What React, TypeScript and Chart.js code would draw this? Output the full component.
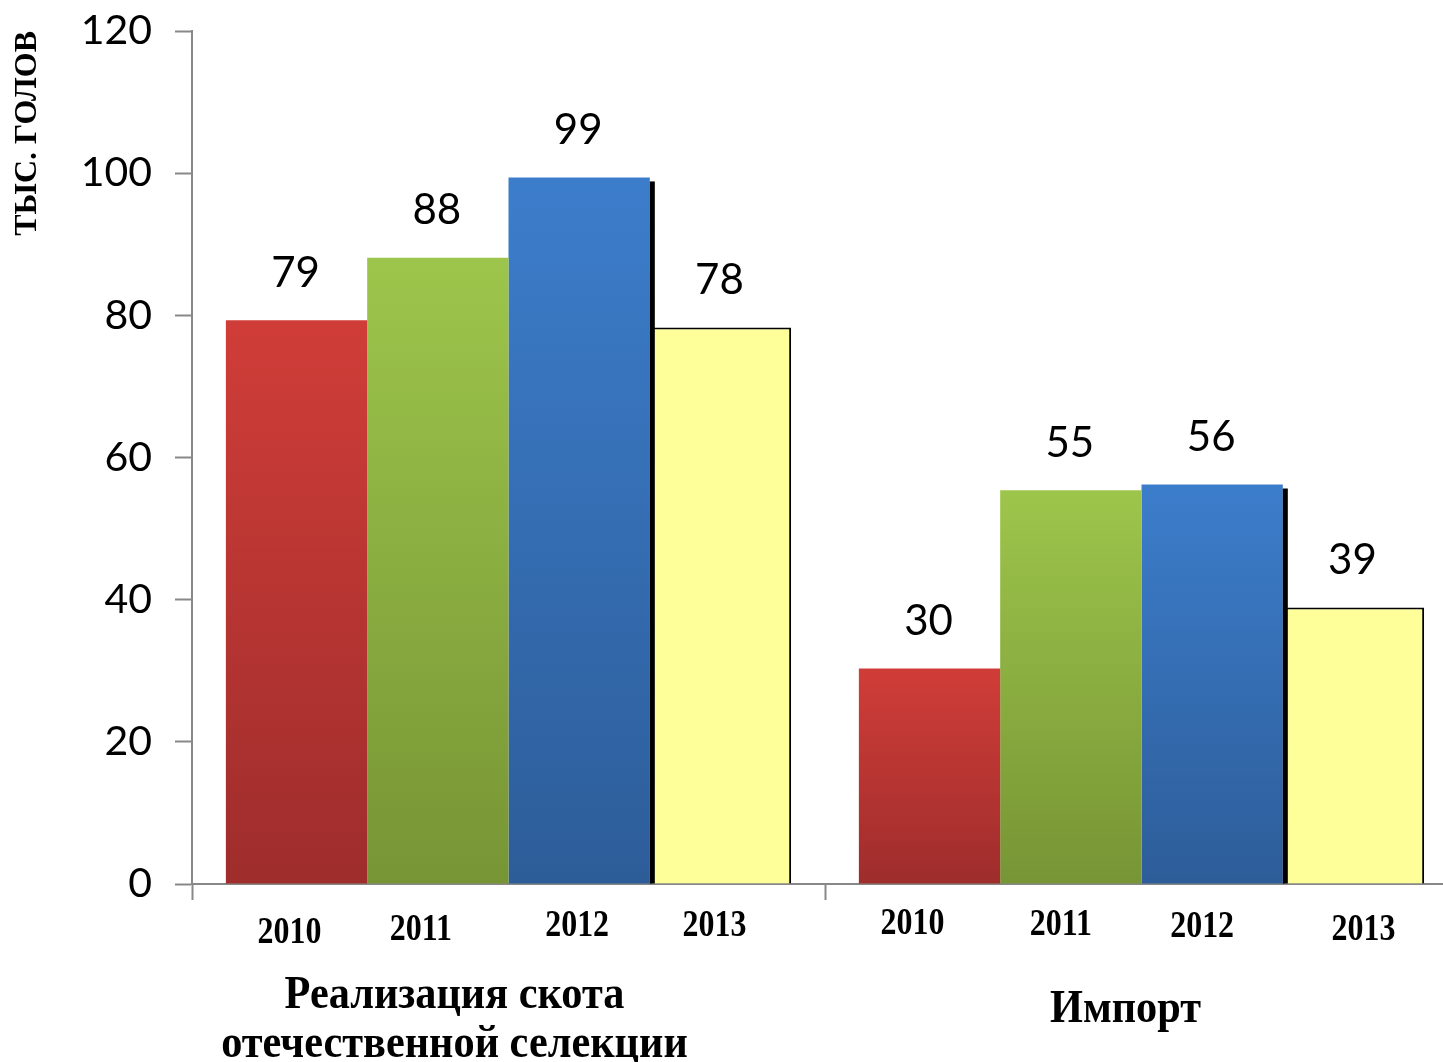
import React, { useEffect, useRef } from "react";
import { Chart, registerables } from "chart.js";

Chart.register(...registerables);

const categories = ["Реализация скота отечественной селекции", "Импорт"];
const groupLabelLines = [["Реализация скота", "отечественной селекции"], ["Импорт"]];
const years = ["2010", "2011", "2012", "2013"];
const values2010 = [79.3, 30.3];
const values2011 = [88.1, 55.4];
const values2012 = [99.4, 56.2];
const values2013 = [78.3, 38.9];
const yMin = 0;
const yMax = 120;
const yStep = 20;
const yTitle = "ТЫС. ГОЛОВ";

// small per-label text nudges (style only)
const yearDx = [[-7, -17, -2, -6], [-17, -10, -10, 10]];
const yearDy = [[49, 46, 42, 42], [40, 41, 43, 46]];
const groupDx = [-54, -16];
const groupDy = [[112, 161], [126]];

function grad(top: string, bottom: string) {
  return (ctx: any) => {
    const chart = ctx.chart;
    if (!chart.chartArea || ctx.raw === undefined) return top;
    const ys = chart.scales.y;
    const y0 = ys.getPixelForValue(ctx.raw);
    const y1 = ys.getPixelForValue(0);
    if (!isFinite(y0) || !isFinite(y1) || y0 === y1) return top;
    const g = chart.ctx.createLinearGradient(0, y0, 0, y1);
    g.addColorStop(0, top);
    g.addColorStop(1, bottom);
    return g;
  };
}

function drawCondensed(ctx: CanvasRenderingContext2D, text: string, x: number, y: number, font: string, sx: number) {
  ctx.save();
  ctx.translate(x, y);
  ctx.scale(sx, 1);
  ctx.font = font;
  ctx.fillStyle = "#000";
  ctx.textAlign = "center";
  ctx.textBaseline = "middle";
  ctx.fillText(text, 0, 0);
  ctx.restore();
}

const labelsPlugin = {
  id: "labelsPlugin",
  afterDatasetsDraw(chart: any) {
    const ctx: CanvasRenderingContext2D = chart.ctx;
    const bottom = chart.chartArea.bottom;
    // shadow on the right of blue bars
    const blue = chart.getDatasetMeta(2);
    ctx.save();
    ctx.fillStyle = "#000";
    blue.data.forEach((el: any) => {
      const right = el.x + el.width / 2;
      ctx.fillRect(right, el.y + 4, 5, el.base - el.y - 4);
    });
    ctx.restore();
    // value labels + year labels
    chart.data.datasets.forEach((ds: any, di: number) => {
      const meta = chart.getDatasetMeta(di);
      meta.data.forEach((el: any, i: number) => {
        ctx.save();
        ctx.font = "42px Lato";
        ctx.fillStyle = "#000";
        ctx.textAlign = "center";
        ctx.textBaseline = "middle";
        ctx.fillText(String(Math.round(ds.data[i])), el.x - 1, el.y - 47);
        ctx.restore();
        drawCondensed(ctx, years[di], el.x + yearDx[i][di], bottom + yearDy[i][di], "bold 38px 'Liberation Serif'", 0.84);
      });
    });
    // group labels
    const xs = chart.scales.x;
    groupLabelLines.forEach((lines, gi) => {
      const cx = xs.getPixelForValue(gi) + groupDx[gi];
      lines.forEach((line, li) => {
        drawCondensed(ctx, line, cx, bottom + groupDy[gi][li], "bold 46px 'Liberation Serif'", 0.92);
      });
    });
  },
};

export default function App() {
  const ref = useRef<HTMLCanvasElement | null>(null);
  useEffect(() => {
    if (!ref.current) return;
    const chart = new Chart(ref.current, {
      type: "bar",
      data: {
        labels: categories,
        datasets: [
          { label: years[0], data: values2010, backgroundColor: grad("#d03d38", "#9e2d2c"), borderWidth: 0 },
          { label: years[1], data: values2011, backgroundColor: grad("#9dc54b", "#779535"), borderWidth: 0 },
          { label: years[2], data: values2012, backgroundColor: grad("#3c7dcb", "#2d5d99"), borderWidth: 0 },
          { label: years[3], data: values2013, backgroundColor: "#ffff99", borderColor: "#000", borderWidth: 2 },
        ],
      },
      options: {
        responsive: false,
        animation: false,
        layout: { padding: { left: 0, right: 12, top: 31, bottom: 0 } },
        datasets: { bar: { categoryPercentage: 0.893, barPercentage: 1 } },
        plugins: { legend: { display: false }, tooltip: { enabled: false } },
        scales: {
          x: {
            grid: { display: true, drawOnChartArea: false, drawTicks: true, tickLength: 16, tickColor: "#888", tickWidth: 2, offset: true },
            border: { display: true, color: "#888", width: 2 },
            ticks: { callback: () => "" },
            afterFit: (s: any) => { s.height = 178; s.paddingLeft = 0; s.paddingRight = 0; },
          },
          y: {
            min: yMin,
            max: yMax,
            ticks: { stepSize: yStep, color: "#000", font: { family: "Lato", size: 41 }, padding: 23 },
            grid: { display: true, drawOnChartArea: false, drawTicks: true, tickLength: 17, tickColor: "#888", tickWidth: 2 },
            border: { display: true, color: "#888", width: 2 },
            title: {
              display: true,
              text: yTitle,
              align: "end",
              color: "#000",
              font: { family: "'Liberation Serif'", size: 32, weight: "bold" },
              padding: { top: 9, bottom: 0 },
            },
            afterFit: (s: any) => { s.width = 192; s.paddingTop = 0; s.paddingBottom = 0; },
          },
        },
      },
      plugins: [labelsPlugin],
    } as any);
    return () => chart.destroy();
  }, []);
  return (
    <div style={{ position: "absolute", left: 0, top: 0, width: 1443, height: 1062, overflow: "hidden", background: "#fff" }}>
      <canvas ref={ref} width={1470} height={1062} style={{ display: "block" }} />
    </div>
  );
}
